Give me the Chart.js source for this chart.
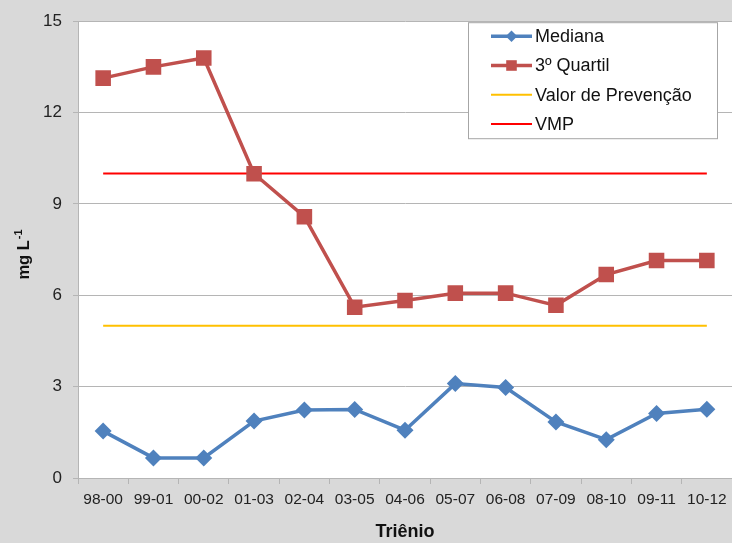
<!DOCTYPE html>
<html>
<head>
<meta charset="utf-8">
<script src="https://cdn.jsdelivr.net/npm/chart.js@4.4.0/dist/chart.umd.min.js"></script>
<style>
  html, body { margin: 0; padding: 0; background: #d9d9d9; }
  #wrap { width: 732px; height: 543px; }
</style>
</head>
<body>
<div id="wrap"><canvas id="chart" width="732" height="543"></canvas></div>
<script>
// Triênio categories and values
const categories = ['98-00', '99-01', '00-02', '01-03', '02-04', '03-05', '04-06',
                    '05-07', '06-08', '07-09', '08-10', '09-11', '10-12'];
const mediana = [1.54, 0.66, 0.66, 1.87, 2.23, 2.25, 1.57, 3.10, 2.97, 1.84, 1.26, 2.12, 2.26];
const terceiroQuartil = [13.13, 13.5, 13.79, 9.99, 8.58, 5.61, 5.83, 6.07, 6.07, 5.67, 6.68, 7.14, 7.14];
const valorPrevencao = [5, 5, 5, 5, 5, 5, 5, 5, 5, 5, 5, 5, 5];
const vmp = [10, 10, 10, 10, 10, 10, 10, 10, 10, 10, 10, 10, 10];
const yTicks = [0, 3, 6, 9, 12, 15];

const FONT = "'Liberation Sans', Arial, sans-serif";
const GRID = '#b5b5b5';

// gray page, white plot area
const background = {
    id: 'background',
    beforeDraw(chart) {
        const { ctx, chartArea: a } = chart;
        ctx.save();
        ctx.fillStyle = '#d9d9d9';
        ctx.fillRect(0, 0, chart.width, chart.height);
        ctx.fillStyle = '#ffffff';
        ctx.fillRect(a.left, a.top, a.right - a.left, a.bottom - a.top);
        ctx.restore();
    }
};

// boxed legend in the top right corner of the plot
const legendBox = {
    id: 'legendBox',
    afterDatasetsDraw(chart) {
        const { ctx, chartArea: a } = chart;
        const x = a.right - 264, y = a.top + 1, w = 249, h = 116;
        ctx.save();
        ctx.fillStyle = '#ffffff';
        ctx.fillRect(x, y, w, h);
        ctx.strokeStyle = '#a6a6a6';
        ctx.lineWidth = 1;
        ctx.strokeRect(x + 0.5, y + 0.5, w, h);
        chart.data.datasets.forEach((ds, i) => {
            const cy = y + 14 + i * 29.3;
            ctx.strokeStyle = ds.borderColor;
            ctx.lineWidth = ds.borderWidth;
            ctx.beginPath();
            ctx.moveTo(x + 23, cy);
            ctx.lineTo(x + 64, cy);
            ctx.stroke();
            if (ds.pointRadius > 0) {
                ctx.fillStyle = ds.pointBackgroundColor;
                Chart.helpers.drawPoint(ctx, {
                    pointStyle: ds.pointStyle,
                    radius: ds.pointRadius * 0.68,
                    rotation: 0,
                    borderWidth: 0
                }, x + 43.5, cy);
            }
            ctx.fillStyle = '#111111';
            ctx.font = '18px ' + FONT;
            ctx.textBaseline = 'middle';
            ctx.textAlign = 'left';
            ctx.fillText(ds.label, x + 67, cy + 1);
        });
        ctx.restore();
    }
};

// y title with superscript
const yTitle = {
    id: 'yTitle',
    afterDraw(chart) {
        const ctx = chart.ctx;
        ctx.save();
        ctx.translate(29, 255);
        ctx.rotate(-Math.PI / 2);
        ctx.fillStyle = '#111111';
        ctx.textBaseline = 'alphabetic';
        ctx.textAlign = 'left';
        ctx.font = 'bold 16.5px ' + FONT;
        const main = 'mg L';
        const mw = ctx.measureText(main).width;
        ctx.font = 'bold 11px ' + FONT;
        const sw = ctx.measureText('-1').width;
        const start = -(mw + sw) / 2;
        ctx.font = 'bold 16.5px ' + FONT;
        ctx.fillText(main, start, 0);
        ctx.font = 'bold 11px ' + FONT;
        ctx.fillText('-1', start + mw + 1, -7);
        ctx.restore();
    }
};

const ctx = document.getElementById('chart').getContext('2d');
new Chart(ctx, {
    type: 'line',
    data: {
        labels: categories,
        datasets: [
            {
                label: 'Mediana',
                data: mediana,
                borderColor: '#4f81bd',
                backgroundColor: '#4f81bd',
                pointBackgroundColor: '#4f81bd',
                pointBorderWidth: 0,
                borderWidth: 3.5,
                pointStyle: 'rectRot',
                pointRadius: 8.5
            },
            {
                label: '3º Quartil',
                data: terceiroQuartil,
                borderColor: '#c0504d',
                backgroundColor: '#c0504d',
                pointBackgroundColor: '#c0504d',
                pointBorderWidth: 0,
                borderWidth: 3.5,
                pointStyle: 'rect',
                pointRadius: 11
            },
            {
                label: 'Valor de Prevenção',
                data: valorPrevencao,
                borderColor: '#ffc000',
                borderWidth: 2,
                pointRadius: 0
            },
            {
                label: 'VMP',
                data: vmp,
                borderColor: '#ff0000',
                borderWidth: 2,
                pointRadius: 0
            }
        ]
    },
    options: {
        responsive: false,
        animation: false,
        layout: {
            autoPadding: false,
            padding: { top: 20, right: 0, bottom: 0, left: 0 }
        },
        plugins: {
            legend: { display: false },
            tooltip: { enabled: false }
        },
        scales: {
            x: {
                offset: true,
                grid: {
                    drawOnChartArea: false,
                    drawTicks: true,
                    tickLength: 6,
                    color: GRID,
                    offset: true
                },
                border: { color: GRID, width: 1 },
                ticks: {
                    color: '#222222',
                    font: { family: FONT, size: 15.5 },
                    padding: 6,
                    maxRotation: 0,
                    autoSkip: false
                },
                title: {
                    display: true,
                    text: 'Triênio',
                    color: '#111111',
                    font: { family: FONT, size: 18, weight: 'bold' },
                    padding: { top: 0, bottom: 0 }
                },
                afterFit(scale) {
                    scale.height = 65;
                    scale.paddingLeft = 0;
                    scale.paddingRight = 0;
                }
            },
            y: {
                min: 0,
                max: 15,
                afterBuildTicks(scale) { scale.ticks = yTicks.map(v => ({ value: v })); },
                grid: { color: GRID, tickLength: 5 },
                border: { color: GRID, width: 1 },
                ticks: {
                    color: '#222222',
                    font: { family: FONT, size: 17 },
                    padding: 11
                },
                afterFit(scale) { scale.width = 78; }
            }
        }
    },
    plugins: [background, legendBox, yTitle]
});
</script>
</body>
</html>
